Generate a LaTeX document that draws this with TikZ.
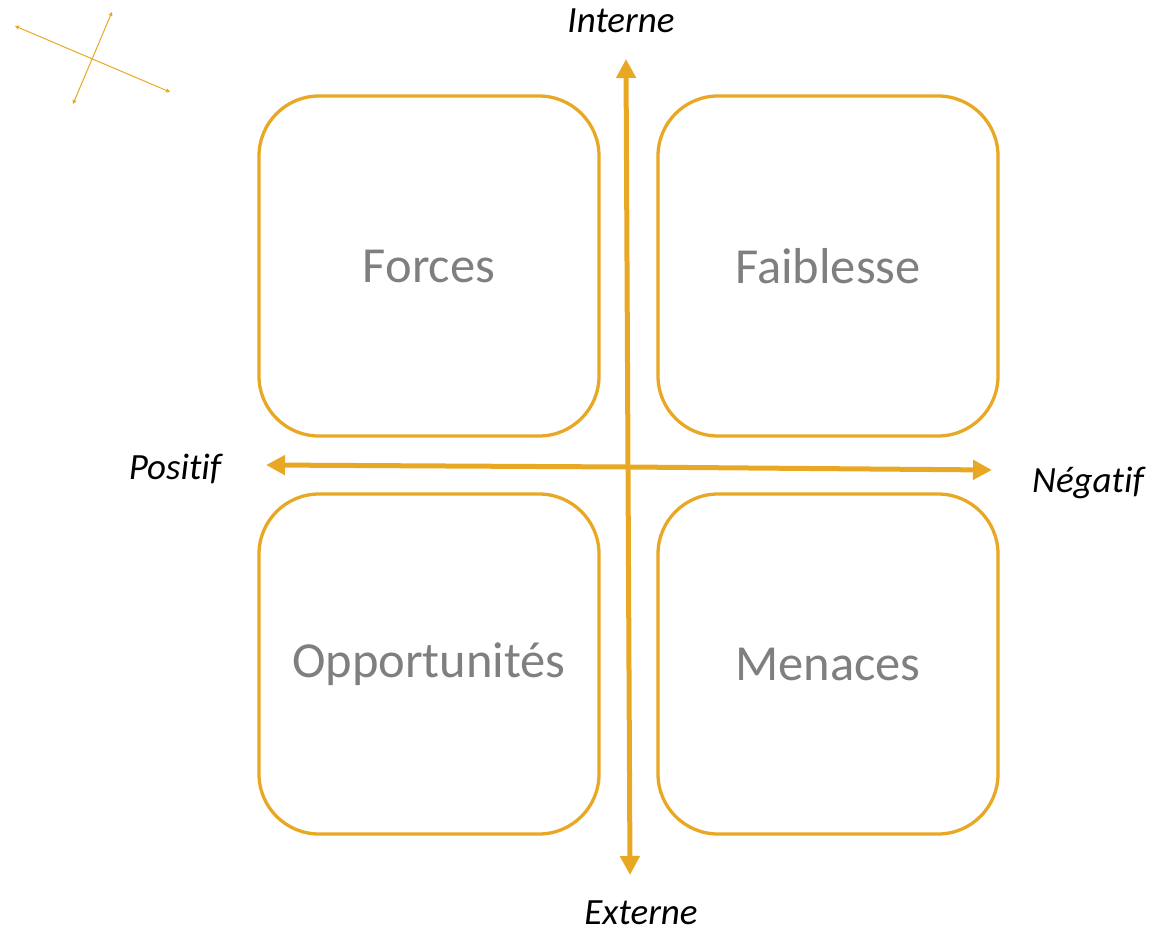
\documentclass[tikz,border=0pt]{standalone}
\usepackage{fontspec}
\setmainfont{Carlito}[Ligatures=NoCommon]
\usetikzlibrary{arrows.meta}
\definecolor{gold}{HTML}{E8A823}
\definecolor{txtgray}{HTML}{7F7F7F}
\tikzset{
  quad/.style={draw=gold, line width=3.3pt, rounded corners=60pt, minimum width=340pt, minimum height=340pt, inner sep=0pt, text=txtgray, font=\fontsize{50.5}{54}\selectfont},
  axis/.style={draw=gold, line width=5pt, -{Triangle[length=19pt,width=19pt]}},
  small/.style={draw=gold, line width=1pt, {Triangle[length=4pt,width=4pt]}-{Triangle[length=4pt,width=4pt]}},
  lbl/.style={font=\fontsize{37}{40}\selectfont\itshape, text=black},
}
\begin{document}
\begin{tikzpicture}[x=1pt,y=-1pt]
\useasboundingbox (0,0) rectangle (1155,934);
\node[quad] (F) at (429,266) {Forces};
\node[quad] (W) at (828,266) {Faiblesse};
\node[quad] (O) at (429,664) {Opportunités};
\node[quad] (M) at (828,664) {Menaces};
\coordinate (c) at (628,467);
\coordinate (top) at (626,59);
\coordinate (bot) at (630,875);
\coordinate (left) at (266,465);
\coordinate (right) at (992,470);
\draw[axis] (c) -- (top);
\draw[axis] (c) -- (bot);
\draw[axis] (c) -- (left);
\draw[axis] (c) -- (right);
\node[lbl] (int) at (621,21) {Interne};
\node[lbl] (ext) at (641,913) {Externe};
\node[lbl] (pos) at (175,469) {Positif};
\node[lbl] (neg) at (1088,483) {Négatif};
\coordinate (s1) at (15,26);
\coordinate (s2) at (170,92);
\coordinate (s3) at (112,12);
\coordinate (s4) at (73,104);
\draw[small] (s1) -- (s2);
\draw[small] (s3) -- (s4);
\end{tikzpicture}
\end{document}
